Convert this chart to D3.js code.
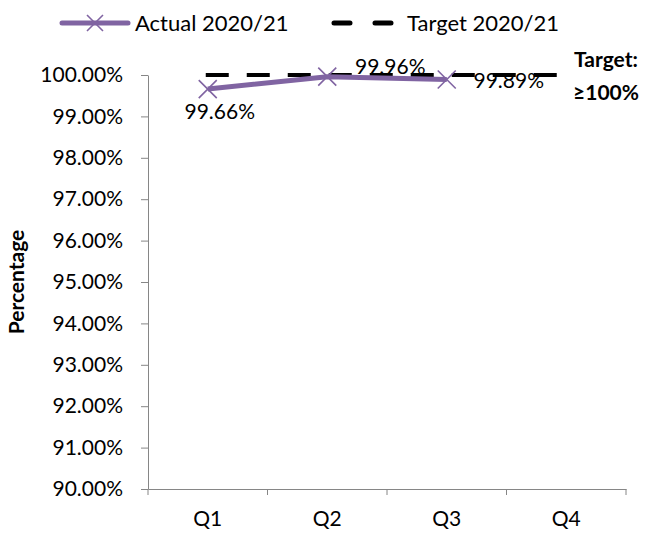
<!DOCTYPE html>
<html>
<head>
<meta charset="utf-8">
<script src="https://cdn.jsdelivr.net/npm/d3@7"></script>
<style>
  body { margin: 0; background: #fff; }
  svg text { font-family: Lato, "Open Sans", sans-serif; fill: #000; }
  .axis path, .axis line { stroke: #868686; }
</style>
</head>
<body>
<div id="chart"></div>
<script>
// data
const quarters = ["Q1", "Q2", "Q3", "Q4"];
const actual = [99.66, 99.96, 99.89, null];
const target = [100, 100, 100, 100];
const yTicks = [90, 91, 92, 93, 94, 95, 96, 97, 98, 99, 100];
const seriesNames = ["Actual 2020/21", "Target 2020/21"];
const targetNote = ["Target:", "\u2265100%"];

const W = 646, H = 533;
const margin = { top: 75, right: 20, bottom: 44, left: 148 };
const width = 626 - margin.left;
const height = 489 - margin.top;
const purple = "#8064a2";

const svg = d3.select("#chart")
  .append("svg")
  .attr("width", W)
  .attr("height", H);

const g = svg.append("g")
  .attr("transform", `translate(${margin.left}, ${margin.top})`);

const x = d3.scaleBand()
  .domain(quarters)
  .range([0, width]);

const y = d3.scaleLinear()
  .domain([90, 100])
  .range([height, 0]);

const cx = q => x(q) + x.bandwidth() / 2;

// y axis
g.append("g")
  .attr("class", "axis")
  .call(d3.axisLeft(y).tickValues(yTicks).tickSize(7).tickSizeOuter(0)
    .tickFormat(d => d.toFixed(2) + "%"))
  .call(a => a.selectAll("text").style("font-size", "21px").attr("x", -25));

// x axis, ticks on the band edges
const xAxis = g.append("g")
  .attr("class", "axis")
  .attr("transform", `translate(0, ${height})`)
  .call(d3.axisBottom(x).tickSize(0).tickSizeOuter(0));
xAxis.selectAll("text").style("font-size", "21px").attr("y", 22);
xAxis.selectAll(".edge")
  .data(d3.range(quarters.length + 1))
  .join("line")
  .attr("class", "edge")
  .attr("x1", i => i * x.step())
  .attr("x2", i => i * x.step())
  .attr("y1", 0)
  .attr("y2", 6);

// target line (dashed)
const line = d3.line()
  .defined(d => d.v != null)
  .x(d => cx(d.q))
  .y(d => y(d.v));

g.append("path")
  .datum(quarters.map((q, i) => ({ q, v: target[i] })))
  .attr("d", line)
  .attr("fill", "none")
  .attr("stroke", "#000")
  .attr("stroke-width", 4)
  .attr("stroke-dasharray", "19,22")
  .attr("stroke-linecap", "square");

// actual line
const actualPts = quarters.map((q, i) => ({ q, v: actual[i] })).filter(d => d.v != null);

g.append("path")
  .datum(actualPts)
  .attr("d", line)
  .attr("fill", "none")
  .attr("stroke", purple)
  .attr("stroke-width", 5)
  .attr("stroke-linejoin", "round");

const cross = (sel, s) => sel.append("path")
  .attr("d", `M${-s},${-s}L${s},${s}M${-s},${s}L${s},${-s}`)
  .attr("stroke", purple)
  .attr("stroke-width", 1.6)
  .attr("fill", "none");

g.selectAll(".marker")
  .data(actualPts)
  .join("g")
  .attr("class", "marker")
  .attr("transform", d => `translate(${cx(d.q)}, ${y(d.v)})`)
  .each(function() { cross(d3.select(this), 9); });

// data labels
const labelOffsets = [[12, 23], [63, -10], [62, 1]];
g.selectAll(".dlabel")
  .data(actualPts)
  .join("text")
  .attr("class", "dlabel")
  .attr("x", (d, i) => cx(d.q) + labelOffsets[i][0])
  .attr("y", (d, i) => y(d.v) + labelOffsets[i][1])
  .attr("dy", "0.35em")
  .attr("text-anchor", "middle")
  .style("font-size", "21px")
  .text(d => d.v.toFixed(2) + "%");

// target note on the right
svg.selectAll(".note")
  .data(targetNote)
  .join("text")
  .attr("class", "note")
  .attr("x", 606)
  .attr("y", (d, i) => 60 + i * 33)
  .attr("dy", "0.35em")
  .attr("text-anchor", "middle")
  .style("font-size", "21px")
  .style("font-weight", "bold")
  .text(d => d);

// y axis title
svg.append("text")
  .attr("transform", `translate(17, ${margin.top + height / 2}) rotate(-90)`)
  .attr("dy", "0.35em")
  .attr("text-anchor", "middle")
  .style("font-size", "21px")
  .style("font-weight", "bold")
  .text("Percentage");

// legend
const legend = svg.append("g").attr("transform", "translate(0, 23)");

legend.append("line")
  .attr("x1", 62).attr("x2", 128)
  .attr("stroke", purple).attr("stroke-width", 5)
  .attr("stroke-linecap", "round");
cross(legend.append("g").attr("transform", "translate(95, 0)"), 8);
legend.append("text")
  .attr("x", 135).attr("dy", "0.35em")
  .style("font-size", "22px")
  .text(seriesNames[0]);

legend.append("line")
  .attr("x1", 334).attr("x2", 396)
  .attr("stroke", "#000").attr("stroke-width", 5)
  .attr("stroke-dasharray", "16,25")
  .attr("stroke-linecap", "round");
legend.append("text")
  .attr("x", 407).attr("dy", "0.35em")
  .style("font-size", "22px")
  .text(seriesNames[1]);
</script>
</body>
</html>
